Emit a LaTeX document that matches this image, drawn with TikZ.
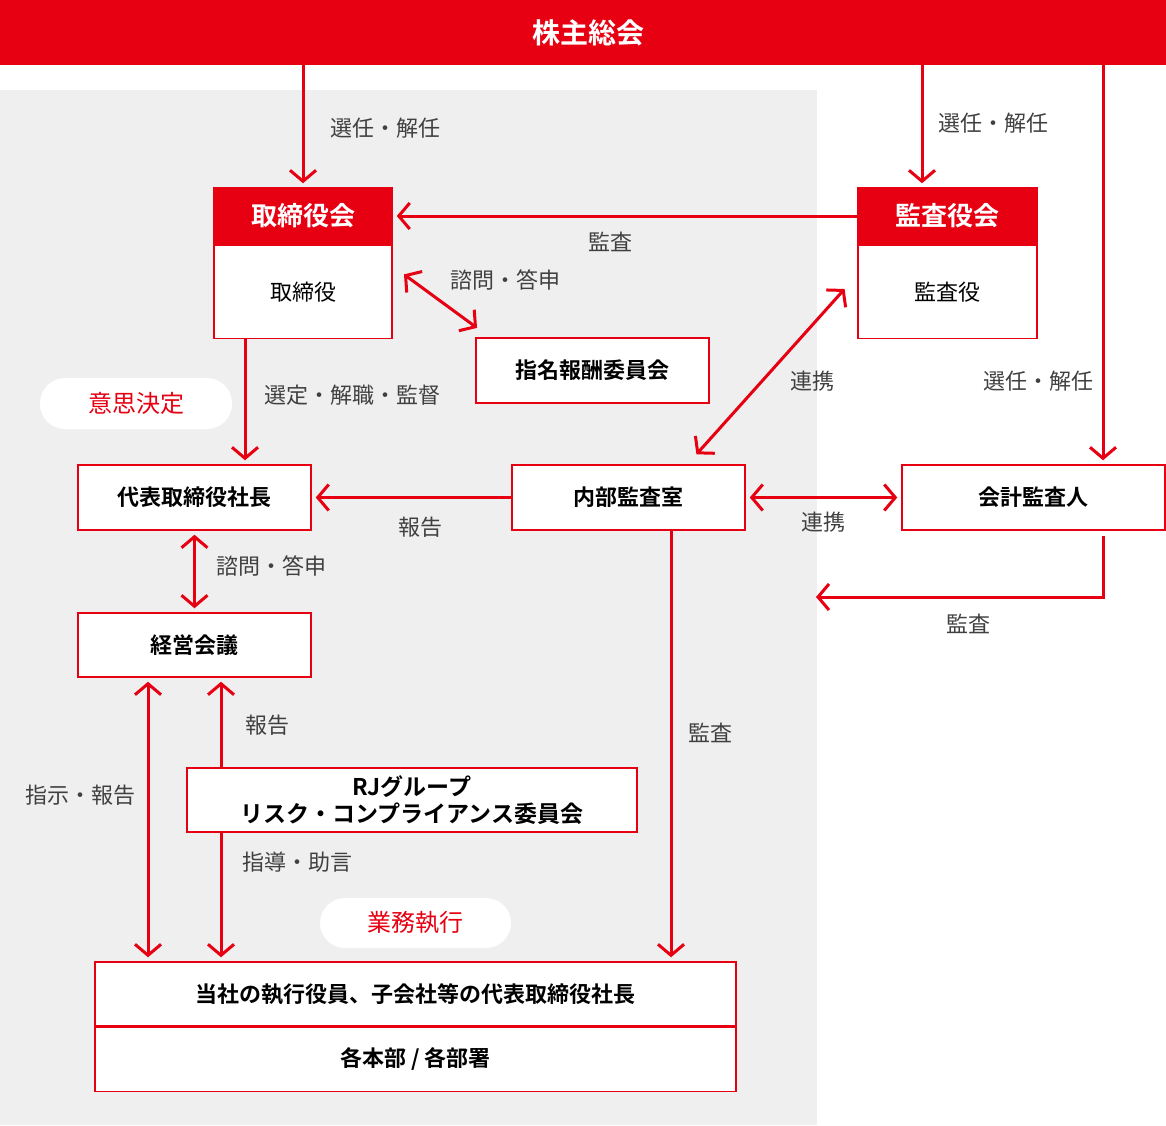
\documentclass[tikz,border=0pt]{standalone}
\usepackage{fontspec}
\setmainfont{Noto Sans CJK JP}[BoldFont={Noto Sans CJK JP Bold}]
\usetikzlibrary{arrows.meta}
\definecolor{rjred}{HTML}{E60012}
\definecolor{bggray}{HTML}{EFEFEF}
\definecolor{txtgray}{HTML}{404040}

\begin{document}
\begin{tikzpicture}[x=1pt, y=-1pt,
    >={Straight Barb[length=11pt,width=26pt]},
    arr/.style={->, rjred, line width=3pt, shorten >=4pt},
    darr/.style={<->, rjred, line width=3pt, shorten >=4pt, shorten <=4pt},
    box/.style={draw=rjred, line width=1.5pt, fill=white, inner sep=0pt,
        font=\bfseries\fontsize{22}{26}\selectfont},
    hdr/.style={draw=rjred, line width=1.5pt, fill=rjred, text=white, inner sep=0pt,
        font=\bfseries\fontsize{26}{30}\selectfont},
    sub/.style={draw=rjred, line width=1.5pt, fill=white, inner sep=0pt,
        font=\fontsize{22}{26}\selectfont},
    lbl/.style={text=txtgray, inner sep=0pt, font=\fontsize{22}{26}\selectfont},
    pill/.style={fill=white, rounded corners=25pt, text=rjred, inner sep=0pt,
        font=\fontsize{24}{28}\selectfont}]
    \useasboundingbox (0,0) rectangle (1166,1125);
    % background of the company side
    \fill[bggray] (0,90) rectangle (817,1125);
    % general meeting
    \node[fill=rjred, minimum width=1176pt, minimum height=65pt, inner sep=0pt, text=white,
        font=\bfseries\fontsize{28}{32}\selectfont] (gm) at (588,32.5) {株主総会};
    % boards
    \node[hdr, minimum width=178pt, minimum height=56pt] (bod) at (303,216) {取締役会};
    \node[sub, minimum width=178pt, minimum height=93pt, anchor=north] (bodm) at (bod.south) {取締役};
    \node[hdr, minimum width=179pt, minimum height=56pt] (kan) at (947.5,216) {監査役会};
    \node[sub, minimum width=179pt, minimum height=93pt, anchor=north] (kanm) at (kan.south) {監査役};
    \node[box, minimum width=233pt, minimum height=65pt] (nom) at (592.5,370.5) {指名報酬委員会};
    % middle row
    \node[box, minimum width=233pt, minimum height=65pt] (ceo) at (194.5,497.5) {代表取締役社長};
    \node[box, minimum width=233pt, minimum height=65pt] (iad) at (628.5,497.5) {内部監査室};
    \node[box, minimum width=263pt, minimum height=65pt] (acc) at (1033.5,497.5) {会計監査人};
    \node[box, minimum width=233pt, minimum height=64pt] (mtg) at (194.5,645) {経営会議};
    \node[box, minimum width=450pt, minimum height=64pt, align=center,
        font=\bfseries\fontsize{23}{27}\selectfont] (rj) at (412,800) {RJグループ\\リスク・コンプライアンス委員会};
    % execution
    \node[box, minimum width=641pt, minimum height=64pt] (exe) at (415.5,994) {当社の執行役員、子会社等の代表取締役社長};
    \node[box, minimum width=641pt, minimum height=64pt, anchor=north] (dept) at (exe.south) {各本部 / 各部署};
    % tags
    \node[pill, minimum width=192pt, minimum height=51pt] (dm) at (136,403.5) {意思決定};
    \node[pill, minimum width=191pt, minimum height=50pt] (bx) at (415.5,923) {業務執行};
    % columns for the arrows
    \coordinate (xa) at (922,0);
    \coordinate (xb) at (1103,0);
    \coordinate (xc) at (245,0);
    \coordinate (xd) at (148,0);
    \coordinate (xe) at (221,0);
    \coordinate (xf) at (671,0);
    \coordinate (ret) at (812,597);
    % arrows
    \draw[arr] (gm.south -| bod.north) -- (bod.north);
    \draw[arr] (gm.south -| xa) -- (kan.north -| xa);
    \draw[arr] (gm.south -| xb) -- (acc.north -| xb);
    \draw[arr] (kan.west) -- (bod.east);
    \draw[darr] ([shift={(8,-20)}]bodm.east) -- ([shift={(5,-7)}]nom.north west);
    \draw[arr] (bodm.south -| xc) -- (ceo.north -| xc);
    \draw[arr] (iad.west) -- (ceo.east);
    \draw[darr] (iad.east) -- (acc.west);
    \draw[darr] ([shift={(-52,-7)}]iad.north east) -- ([shift={(-10,-6)}]kanm.west);
    \draw[arr, shorten <=5pt] (acc.south -| xb) |- (ret);
    \draw[darr] (ceo.south) -- (mtg.north);
    \draw[darr] (mtg.south -| xd) -- (exe.north -| xd);
    \draw[arr] (rj.north -| xe) -- (mtg.south -| xe);
    \draw[arr] (rj.south -| xe) -- (exe.north -| xe);
    \draw[arr] (iad.south -| xf) -- (exe.north -| xf);
    % labels
    \node[lbl] (selA) at (385,128) {選任・解任};
    \node[lbl] (selB) at (993,123) {選任・解任};
    \node[lbl] (selC) at (1038,381) {選任・解任};
    \node[lbl] (audA) at (610,242) {監査};
    \node[lbl] (conA) at (505,280) {諮問・答申};
    \node[lbl] (supA) at (352,395) {選定・解職・監督};
    \node[lbl] (coopA) at (812,381) {連携};
    \node[lbl] (repA) at (420,527) {報告};
    \node[lbl] (coopB) at (823,522) {連携};
    \node[lbl] (audB) at (968,624) {監査};
    \node[lbl] (conB) at (271,566) {諮問・答申};
    \node[lbl] (insA) at (80,795) {指示・報告};
    \node[lbl] (repB) at (267,725) {報告};
    \node[lbl] (advA) at (297,862) {指導・助言};
    \node[lbl] (audC) at (710,733) {監査};
\end{tikzpicture}
\end{document}
